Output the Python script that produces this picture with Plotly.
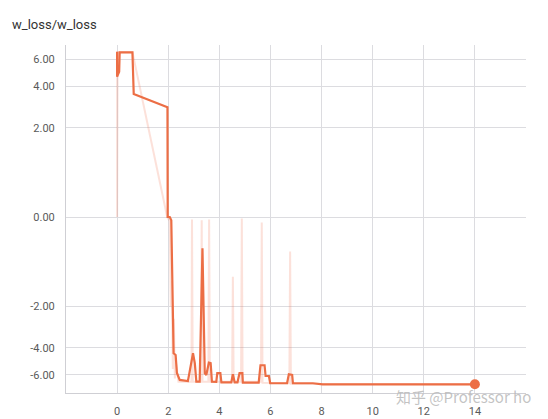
import numpy as np
import plotly.graph_objects as go

# smoothed series (step in thousands, loss value)
smooth_x = [0.0, 0.0, 0.08, 0.1, 0.6, 0.65, 1.97, 1.98, 2.06, 2.12, 2.21, 2.29, 2.34, 2.45,
            2.77, 2.91, 2.97, 3.04, 3.10, 3.23, 3.34, 3.43, 3.49, 3.59, 3.66, 3.71,
            3.88, 3.92, 4.04, 4.08, 4.47, 4.53, 4.60, 4.71, 4.79, 4.90, 4.92,
            5.54, 5.61, 5.77, 5.81, 5.94, 5.99, 6.65, 6.72, 6.85, 6.88, 7.66, 8.04, 14.0]
smooth_y = [6.66, 4.63, 4.99, 6.60, 6.60, 3.55, 2.86, 0.0, 0.0, -0.04, -4.36, -4.47, -5.83, -6.44,
            -6.55, -5.05, -4.36, -5.05, -6.60, -6.60, -0.47, -5.85, -6.0, -5.01, -5.05, -6.60,
            -6.62, -5.85, -5.85, -6.66, -6.66, -5.94, -6.66, -6.66, -5.85, -5.85, -6.69,
            -6.69, -5.21, -5.21, -6.09, -6.09, -6.75, -6.75, -5.94, -6.0, -6.75, -6.75, -6.85, -6.85]

# raw series (faint)
raw_x = [0.0, 0.0, 0.02, 0.1, 0.6, 1.96, 2.06, 2.10, 2.14, 2.18, 2.22, 2.26, 2.30, 2.40,
         2.91, 2.93, 2.96, 3.28, 3.31, 3.34, 3.57, 3.60, 3.63, 4.50, 4.53, 4.56,
         4.85, 4.88, 4.91, 5.63, 5.66, 5.69, 6.74, 6.77, 6.80, 14.0]
raw_y = [6.66, 0.0, 6.60, 6.60, 6.60, 0.0, -0.05, -2.0, -1.2, -5.5, -2.5, -6.3, -5.0, -6.6,
         -6.6, -0.03, -6.6, -6.6, -0.04, -6.6, -6.6, -0.03, -6.6, -6.6, -1.09, -6.6,
         -6.6, -0.02, -6.6, -6.6, -0.07, -6.7, -6.75, -0.53, -6.8, -6.85]

y_ticks = [6, 4, 2, 0, -2, -4, -6]
x_ticks = [-2, 0, 2, 4, 6, 8, 10, 12, 14, 16]


def symlog(v):
    v = np.asarray(v, dtype=float)
    return np.sign(v) * np.log1p(np.abs(v))


line_col = "#ec6e45"
grid_col = "#dcdce0"

fig = go.Figure()
fig.add_trace(go.Scatter(x=raw_x, y=symlog(raw_y), mode="lines",
                         line=dict(color="rgba(240,120,85,0.22)", width=2),
                         hoverinfo="skip"))
fig.add_trace(go.Scatter(x=smooth_x, y=symlog(smooth_y), mode="lines",
                         line=dict(color=line_col, width=2.2)))
fig.add_trace(go.Scatter(x=[smooth_x[-1]], y=symlog([smooth_y[-1]]), mode="markers",
                         marker=dict(color=line_col, size=10)))

fig.update_layout(
    width=548, height=419,
    margin=dict(l=66, r=22, t=45, b=26),
    paper_bgcolor="white", plot_bgcolor="white",
    showlegend=False,
    font=dict(family="Roboto", size=11, color="#5a5a5a"),
)
fig.update_xaxes(range=[-2, 16], tickvals=x_ticks,
                 ticktext=["" if v in (-2, 16) else str(v) for v in x_ticks],
                 showgrid=True, gridcolor=grid_col, zeroline=False, automargin=False,
                 showline=True, linecolor="#cfcfd4", ticks="", ticklabelstandoff=8)
fig.update_yaxes(range=[symlog(-7.74), symlog(7.32)], tickvals=symlog(y_ticks),
                 ticktext=["%.2f" % v for v in y_ticks],
                 showgrid=True, gridcolor=grid_col, zeroline=False, automargin=False,
                 showline=True, linecolor="#cfcfd4", ticks="", ticklabelstandoff=8)

# title, top left
fig.add_annotation(text="w_loss/w_loss", x=-56 / 459.6, y=1 + 20 / 348,
                   xref="paper", yref="paper", xanchor="left", yanchor="middle",
                   showarrow=False, font=dict(size=13, color="#333"))

# watermark
fig.add_annotation(text="知乎 @Professor ho", x=(533 - 66) / 459.6, y=-3 / 348,
                   xref="paper", yref="paper",
                   xanchor="right", yanchor="middle", showarrow=False,
                   font=dict(family="Noto Sans CJK SC", size=15, color="rgba(185,185,185,0.85)"))

fig.write_html("out.html", config={"displayModeBar": False},
               post_script="document.body.style.margin='0px';")
